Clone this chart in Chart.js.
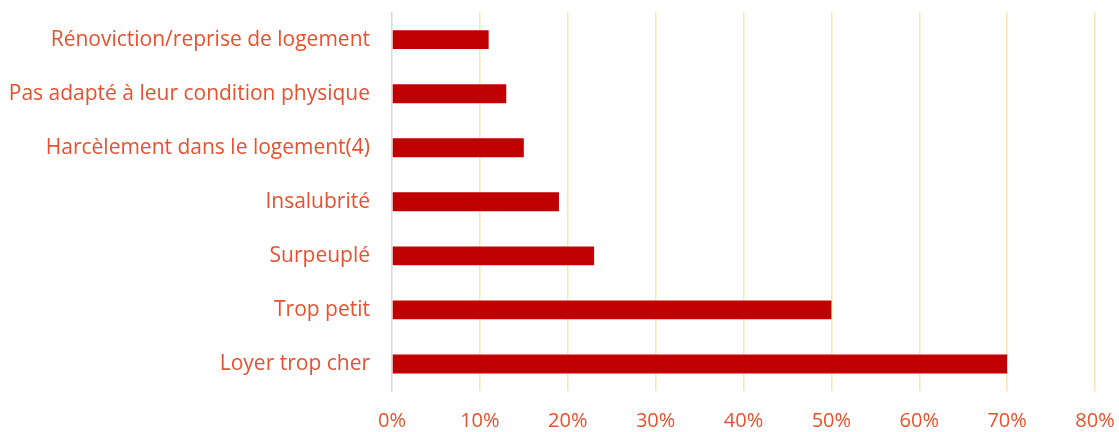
<!DOCTYPE html>
<html>
<head>
<meta charset="utf-8">
<script src="https://cdn.jsdelivr.net/npm/chart.js@4/dist/chart.umd.min.js"></script>
<style>
  html, body { margin: 0; padding: 0; background: #fff; }
  #wrap { width: 1119px; height: 432px; }
</style>
</head>
<body>
<div id="wrap"><canvas id="raisonsChart"></canvas></div>
<script>
// raisons du déménagement (en %)
const categories = [
  "Rénoviction/reprise de logement",
  "Pas adapté à leur condition physique",
  "Harcèlement dans le logement(4)",
  "Insalubrité",
  "Surpeuplé",
  "Trop petit",
  "Loyer trop cher"
];
const pourcentages = [11, 13, 15, 19, 23, 50, 70];
const ticksX = [0, 10, 20, 30, 40, 50, 60, 70, 80];

const couleurTexte = "#E9502D";
const police = "'Open Sans', sans-serif";

const ctx = document.getElementById("raisonsChart").getContext("2d");
new Chart(ctx, {
  type: "bar",
  data: {
    labels: categories,
    datasets: [
      {
        data: pourcentages,
        backgroundColor: "#C00000",
        borderWidth: 0,
        categoryPercentage: 0.7,
        barPercentage: 0.5
      }
    ]
  },
  options: {
    indexAxis: "y",
    responsive: true,
    maintainAspectRatio: false,
    animation: false,
    layout: { padding: { top: 10, right: 24, left: 0, bottom: 0 } },
    plugins: {
      legend: { display: false },
      tooltip: { enabled: false }
    },
    scales: {
      x: {
        min: 0,
        max: 80,
        afterBuildTicks: scale => {
          scale.ticks = ticksX.map(v => ({ value: v }));
        },
        afterFit: scale => { scale.height = 41; },
        grid: {
          color: ctx => (ctx.tick && ctx.tick.value === 0 ? "rgba(0,0,0,0)" : "#FFE2AE"),
          lineWidth: 1.5,
          drawTicks: true,
          tickLength: 18,
          tickColor: "rgba(0,0,0,0)"
        },
        border: { display: false },
        ticks: {
          color: couleurTexte,
          padding: 0,
          font: { family: police, size: 20 },
          callback: v => v + "%"
        }
      },
      y: {
        afterFit: scale => { scale.width = 392; },
        grid: {
          display: true,
          drawOnChartArea: false,
          drawTicks: true,
          tickLength: 22,
          tickColor: "rgba(0,0,0,0)"
        },
        border: { display: true, color: "#D9D9D9", width: 1.5 },
        ticks: {
          color: couleurTexte,
          padding: 0,
          font: { family: police, size: 21 }
        }
      }
    }
  }
});
</script>
</body>
</html>
